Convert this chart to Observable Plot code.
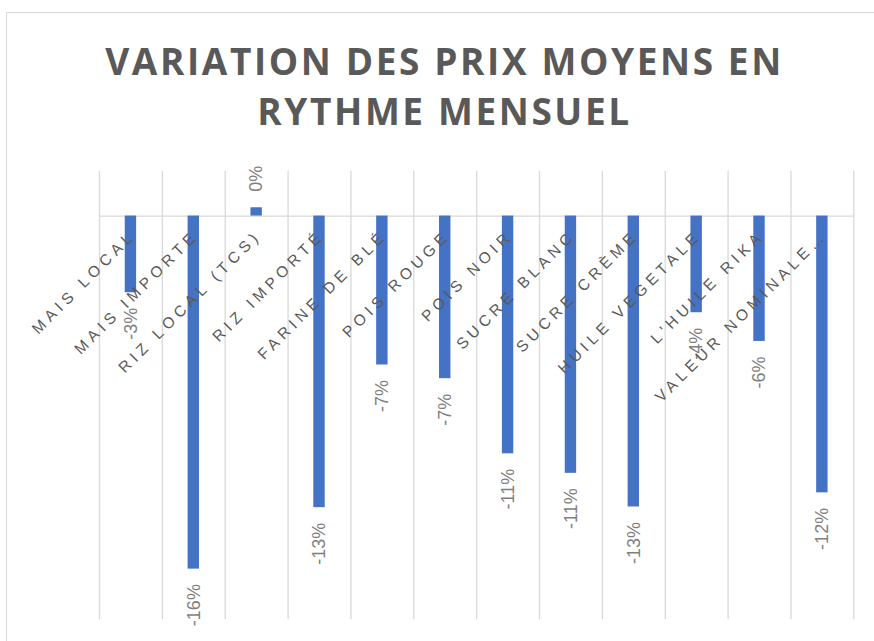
<!DOCTYPE html>
<html>
<head>
<meta charset="utf-8">
<script src="https://cdn.jsdelivr.net/npm/d3@7"></script>
<script src="https://cdn.jsdelivr.net/npm/@observablehq/plot@0.6"></script>
<style>
  html, body { margin: 0; padding: 0; background: #fff; }
  #wrap { position: relative; width: 874px; height: 641px; overflow: hidden; }
  #frame { position: absolute; left: 6px; top: 12px; width: 900px; height: 700px;
           border-top: 1.5px solid #d9d9d9; border-left: 1.5px solid #d9d9d9; box-sizing: border-box; }
  #title { position: relative; height: 160px; width: 877px; margin-left: 6px; text-align: center;
           font-family: "Open Sans", sans-serif; font-weight: bold;
           font-size: 37px; letter-spacing: 2.6px; color: #595959; line-height: 50px; padding-top: 36px; box-sizing: border-box; }
  #chart { position: relative; }
</style>
</head>
<body>
<div id="wrap">
  <div id="frame"></div>
  <div id="title">VARIATION DES PRIX MOYENS EN<br>RYTHME MENSUEL</div>
  <div id="chart"></div>
</div>
<script>
const categories = ["MAIS LOCAL", "MAIS IMPORTE", "RIZ LOCAL (TCS)", "RIZ IMPORTÉ", "FARINE DE BLÉ", "POIS ROUGE", "POIS NOIR", "SUCRE BLANC", "SUCRE CRÈME", "HUILE VEGETALE", "L'HUILE RIKA", "VALEUR NOMINALE…"];
const values = [-3.42, -15.74, 0.37, -13.0, -6.64, -7.25, -10.6, -11.47, -12.97, -4.31, -5.59, -12.34];
const yDomain = [-18, 2];

const data = categories.map((c, i) => ({cat: c, value: values[i]}));
const W = 874, H = 481, mL = 99, mR = 20.7, mT = 10.7, mB = 21.7;
const bw = (W - mL - mR) / categories.length;
const barW = 11.4;
const fmt = v => Math.round(v) + "%";
const grid = "#d9d9d9";

const chart = Plot.plot({
  width: W, height: H,
  marginLeft: mL, marginRight: mR, marginTop: mT, marginBottom: mB,
  x: {domain: categories, padding: 0, round: false, axis: null},
  y: {domain: yDomain, axis: null},
  marks: [
    Plot.ruleX(categories, {x: d => d, dx: -bw / 2, stroke: grid, strokeWidth: 1.3}),
    Plot.ruleX([categories[categories.length - 1]], {x: d => d, dx: bw / 2, stroke: grid, strokeWidth: 1.3}),
    Plot.ruleY([0], {stroke: grid, strokeWidth: 1.3}),
    Plot.barY(data, {x: "cat", y: "value", fill: "#4472c4", insetLeft: (bw - barW) / 2, insetRight: (bw - barW) / 2}),
    Plot.text(data.filter(d => d.value < 0), {x: "cat", y: "value", text: d => fmt(d.value), rotate: -90,
      textAnchor: "end", lineAnchor: "middle", dy: 15, fill: "#7f7f7f", fontSize: 18,
      fontFamily: "Liberation Sans, sans-serif"}),
    Plot.text(data.filter(d => d.value >= 0), {x: "cat", y: "value", text: d => fmt(d.value), rotate: -90,
      textAnchor: "start", lineAnchor: "middle", dy: -16, fill: "#7f7f7f", fontSize: 18,
      fontFamily: "Liberation Sans, sans-serif"}),
    Plot.text(data, {x: "cat", y: 0, text: "cat", rotate: -45, textAnchor: "end", lineAnchor: "middle",
      dx: 2, dy: 17, fill: "#595959", fontSize: 15.5, fontFamily: "Liberation Sans, sans-serif"})
  ]
});
d3.select(chart).selectAll("g[aria-label='text']").filter((d, i, n) => i === n.length - 1)
  .attr("letter-spacing", "4.6px");
document.getElementById("chart").appendChild(chart);
</script>
</body>
</html>
